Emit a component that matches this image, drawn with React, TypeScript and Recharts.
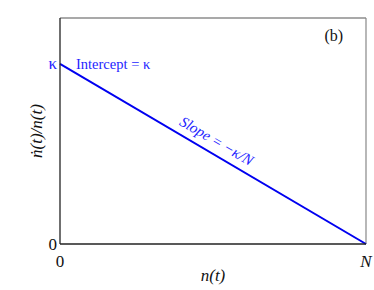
import React from "react";
import {
  LineChart,
  Line,
  XAxis,
  YAxis,
  ReferenceLine,
  ReferenceDot,
} from "recharts";

const xTicks = [0, 1];
const xTickLabels = ["0", "N"];
const yTicks = [0, 1];
const yTickLabels = ["0", "κ"];
const nValues = [0, 1];
const rateValues = [1, 0];

const data = nValues.map((n, i) => ({ n, rate: rateValues[i] }));

const FONT = "Liberation Serif";
const BLUE = "#0000f0";
const TEXT_BLUE = "#1e1eff";

const XTick = (props: any) => {
  const { x, y, payload } = props;
  const i = xTicks.indexOf(payload.value);
  const label = xTickLabels[i];
  return (
    <text
      x={x}
      y={y + 9}
      textAnchor="middle"
      dominantBaseline="central"
      style={{ fontFamily: FONT, fontSize: 17, fontStyle: label === "N" ? "italic" : "normal" }}
      fill="#111"
    >
      {label}
    </text>
  );
};

const YTick = (props: any) => {
  const { x, y, payload } = props;
  const i = yTicks.indexOf(payload.value);
  const label = yTickLabels[i];
  return (
    <text
      x={x + 5}
      y={y}
      textAnchor="end"
      dominantBaseline="central"
      style={{ fontFamily: FONT, fontSize: 17 }}
      fill={label === "κ" ? TEXT_BLUE : "#111"}
    >
      {label}
    </text>
  );
};

const InterceptLabel = (props: any) => {
  const { viewBox } = props;
  const cx = viewBox.x + viewBox.width / 2;
  const cy = viewBox.y + viewBox.height / 2;
  return (
    <text
      x={cx + 16}
      y={cy}
      dominantBaseline="central"
      style={{ fontFamily: FONT, fontSize: 14.5 }}
      fill={TEXT_BLUE}
    >
      Intercept = κ
    </text>
  );
};

const SlopeLabel = (props: any) => {
  const { viewBox } = props;
  const cx = viewBox.x + viewBox.width / 2;
  const cy = viewBox.y + viewBox.height / 2;
  return (
    <text
      x={cx}
      y={cy - 8}
      textAnchor="middle"
      transform={`rotate(30.4, ${cx}, ${cy})`}
      style={{ fontFamily: FONT, fontSize: 15, fontStyle: "italic" }}
      fill={TEXT_BLUE}
    >
      Slope = −κ/N
    </text>
  );
};

const BLabel = (props: any) => {
  const { viewBox } = props;
  const cx = viewBox.x + viewBox.width / 2;
  const cy = viewBox.y + viewBox.height / 2;
  return (
    <text
      x={cx}
      y={cy}
      textAnchor="middle"
      dominantBaseline="central"
      style={{ fontFamily: FONT, fontSize: 16 }}
      fill="#111"
    >
      (b)
    </text>
  );
};

export default function App() {
  return (
    <div style={{ position: "absolute", left: 0, top: 0, width: 374, height: 290, background: "#fff", fontFamily: FONT }}>
      <LineChart
        width={374}
        height={290}
        data={data}
        margin={{ top: 18, right: 8, left: 0, bottom: 0 }}
      >
        <XAxis
          dataKey="n"
          type="number"
          domain={[0, 1]}
          ticks={xTicks}
          tick={<XTick />}
          tickLine={false}
          axisLine={{ stroke: "#222", strokeWidth: 1.3 }}
          height={46}
          label={{
            value: "n(t)",
            position: "insideBottom",
            offset: 9,
            style: { fontFamily: FONT, fontSize: 17, fontStyle: "italic" },
            fill: "#111",
          }}
        />
        <YAxis
          type="number"
          domain={[0, 1.255]}
          ticks={yTicks}
          tick={<YTick />}
          tickLine={false}
          axisLine={{ stroke: "#222", strokeWidth: 1.3 }}
          width={60}
          label={{
            value: "ṅ(t)/n(t)",
            angle: -90,
            position: "insideLeft",
            offset: 36,
            style: { fontFamily: FONT, fontSize: 17, fontStyle: "italic", textAnchor: "middle" },
            fill: "#111",
          }}
        />
        <ReferenceLine y={1.255} stroke="#555" strokeWidth={1.2} />
        <ReferenceLine x={1} stroke="#888" strokeWidth={1.2} />
        <Line
          dataKey="rate"
          stroke={BLUE}
          strokeWidth={2}
          dot={false}
          isAnimationActive={false}
        />
        <ReferenceDot x={0} y={1} r={0} stroke="none" label={<InterceptLabel />} />
        <ReferenceDot x={0.49} y={0.51} r={0} stroke="none" label={<SlopeLabel />} />
        <ReferenceDot x={0.895} y={1.16} r={0} stroke="none" label={<BLabel />} />
      </LineChart>
    </div>
  );
}
